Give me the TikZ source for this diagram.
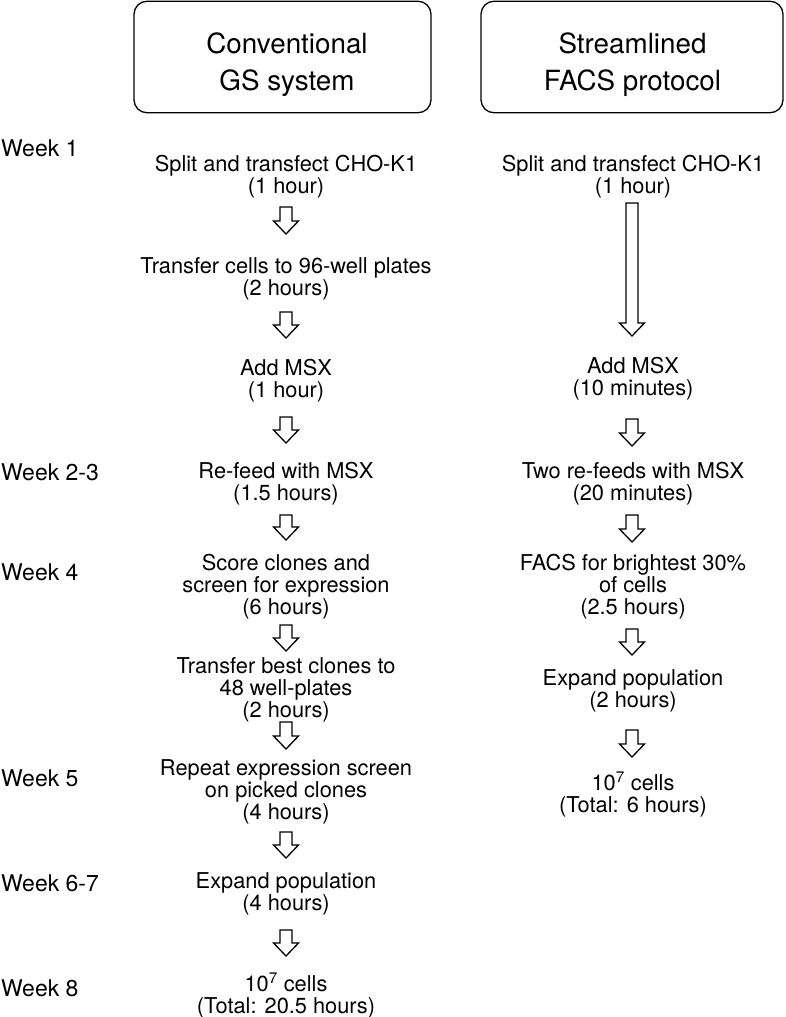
\documentclass[tikz,border=0pt]{standalone}
\usepackage{fontspec}
\setmainfont{TeX Gyre Heros}
\usetikzlibrary{calc}
\tikzset{
  hbox/.style={draw, rounded corners=13pt, line width=1.3pt, inner sep=0pt},
  htext/.style={inner sep=0pt, align=center, anchor=north, font=\fontsize{27.8}{37}\selectfont},
  stepbox/.style={inner sep=0pt, align=center, anchor=north, font=\fontsize{21.8}{22}\selectfont},
  weeklbl/.style={inner sep=0pt, anchor=west, font=\fontsize{23}{26}\selectfont},
  arrowline/.style={draw, line width=1.3pt, line join=miter, fill=white},
}
\newcommand\blockarrow[2]{%
  \path[arrowline] let \p1=(#1), \p2=(#2) in
    (\x1-6pt,\y1) -- (\x1+6pt,\y1) -- (\x1+6pt,\y2+13pt) -- (\x1+12.5pt,\y2+13pt)
    -- (\x1,\y2) -- (\x1-12.5pt,\y2+13pt) -- (\x1-6pt,\y2+13pt) -- cycle;}
\begin{document}
\begin{tikzpicture}[x=1pt,y=-1pt]
\useasboundingbox (0,0) rectangle (785,1017);
% headers
\node[hbox, minimum width=297pt, minimum height=111.5pt] (convbox) at (282.5,57) {};
\node[hbox, minimum width=302pt, minimum height=111.5pt] (factbox) at (632,57) {};
\node[htext] (convtxt) at (287,32.7) {Conventional\\GS system};
\node[htext] (factxt) at (632.5,32.7) {Streamlined\\FACS protocol};
% week labels
\node[weeklbl] (w1) at (1,148) {Week 1};
\node[weeklbl] (w2) at (1,472) {Week 2-3};
\node[weeklbl] (w4) at (1,572) {Week 4};
\node[weeklbl] (w5) at (1,778) {Week 5};
\node[weeklbl] (w6) at (1,883) {Week 6-7};
\node[weeklbl] (w8) at (1,988) {Week 8};
% left column
\node[stepbox] (L1) at (286,155) {Split and transfect CHO-K1\\(1 hour)};
\node[stepbox] (L2) at (286,257) {Transfer cells to 96-well plates\\(2 hours)};
\node[stepbox] (L3) at (286,359) {Add MSX\\(1 hour)};
\node[stepbox] (L4) at (286,462) {Re-feed with MSX\\(1.5 hours)};
\node[stepbox] (L5) at (286,554) {Score clones and\\screen for expression\\(6 hours)};
\node[stepbox] (L6) at (286,657) {Transfer best clones to\\48 well-plates\\(2 hours)};
\node[stepbox] (L7) at (286,759) {Repeat expression screen\\on picked clones\\(4 hours)};
\node[stepbox] (L8) at (286,872) {Expand population\\(4 hours)};
\node[stepbox] (L9) at (286,975) {10\smash{\textsuperscript{7}} cells\\(Total: 20.5 hours)};
% right column
\node[stepbox] (R1) at (633,155) {Split and transfect CHO-K1\\(1 hour)};
\node[stepbox] (R2) at (633,357) {Add MSX\\(10 minutes)};
\node[stepbox] (R3) at (633,462) {Two re-feeds with MSX\\(20 minutes)};
\node[stepbox] (R4) at (633,554) {FACS for brightest 30\%\\of cells\\(2.5 hours)};
\node[stepbox] (R5) at (633,669) {Expand population\\(2 hours)};
\node[stepbox] (R6) at (633,774) {10\smash{\textsuperscript{7}} cells\\(Total: 6 hours)};
% arrow end points
\coordinate (a1t) at (286,207); \coordinate (a1b) at (286,234);
\coordinate (a2t) at (286,312); \coordinate (a2b) at (286,338);
\coordinate (a3t) at (286,417); \coordinate (a3b) at (286,443);
\coordinate (a4t) at (286,515); \coordinate (a4b) at (286,540);
\coordinate (a5t) at (286,625); \coordinate (a5b) at (286,651);
\coordinate (a6t) at (286,722); \coordinate (a6b) at (286,749);
\coordinate (a7t) at (286,832); \coordinate (a7b) at (286,858);
\coordinate (a8t) at (286,930); \coordinate (a8b) at (286,956);
\coordinate (b1t) at (632,203); \coordinate (b1b) at (632,336);
\coordinate (b2t) at (632,419); \coordinate (b2b) at (632,446);
\coordinate (b3t) at (632,515); \coordinate (b3b) at (632,542);
\coordinate (b4t) at (632,629); \coordinate (b4b) at (632,655);
\coordinate (b5t) at (632,730); \coordinate (b5b) at (632,757);
\blockarrow{a1t}{a1b}
\blockarrow{a2t}{a2b}
\blockarrow{a3t}{a3b}
\blockarrow{a4t}{a4b}
\blockarrow{a5t}{a5b}
\blockarrow{a6t}{a6b}
\blockarrow{a7t}{a7b}
\blockarrow{a8t}{a8b}
\blockarrow{b1t}{b1b}
\blockarrow{b2t}{b2b}
\blockarrow{b3t}{b3b}
\blockarrow{b4t}{b4b}
\blockarrow{b5t}{b5b}
\end{tikzpicture}
\end{document}
